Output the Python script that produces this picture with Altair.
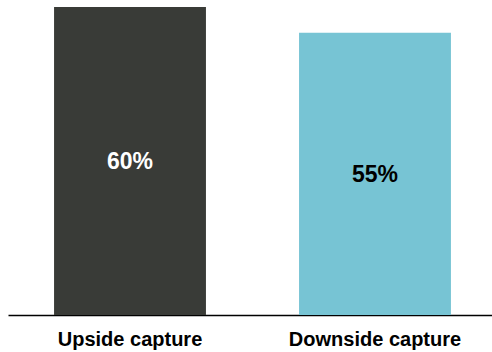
import altair as alt
import pandas as pd

categories = ["Upside capture", "Downside capture"]
values = [60, 55]
labels = ["60%", "55%"]
bar_colors = ["#393b37", "#77c4d4"]
text_colors = ["#ffffff", "#000000"]

df = pd.DataFrame({
    "cat": categories,
    "v": values,
    "label": labels,
    "bc": bar_colors,
    "tc": text_colors,
})

x = alt.X("cat:N", sort=categories, title=None,
          scale=alt.Scale(range=[8, 497], paddingInner=0.38, paddingOuter=0.188),
          axis=alt.Axis(labelAngle=0, ticks=False, domainColor="#000000", domainWidth=1.5,
                        labelFont="Liberation Sans", labelFontSize=20, labelFontWeight="bold",
                        labelColor="#000000", labelPadding=14, grid=False))
y = alt.Y("v:Q", scale=alt.Scale(domain=[0, 60], nice=False), axis=None)

bars = alt.Chart(df).mark_bar().encode(
    x=x, y=y, color=alt.Color("bc:N", scale=None)
)
text = alt.Chart(df).transform_calculate(mid="datum.v / 2").mark_text(
    font="Liberation Sans", fontSize=23, fontWeight="bold", baseline="middle", dy=1
).encode(
    x=alt.X("cat:N", sort=categories),
    y=alt.Y("mid:Q"),
    text="label:N",
    color=alt.Color("tc:N", scale=None),
)

chart = (bars + text).properties(
    width=492, height=308,
    padding={"left": 0, "right": 0, "top": 7, "bottom": 37},
    autosize=alt.AutoSizeParams(type="none"),
).configure_view(stroke=None)

chart.save("out.html", embed_options={"renderer": "svg", "actions": False})
